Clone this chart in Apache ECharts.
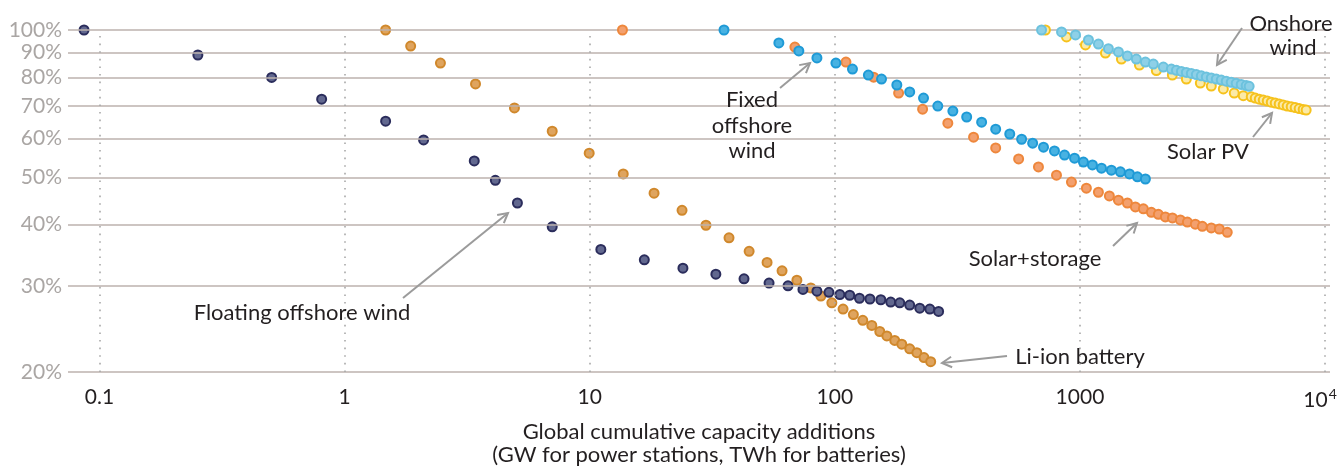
<!DOCTYPE html>
<html><head><meta charset="utf-8">
<script src="https://cdn.jsdelivr.net/npm/echarts@6/dist/echarts.min.js"></script>
<style>html,body{margin:0;padding:0;background:#fff}#c{width:1341px;height:467px}</style>
</head><body><div id="c"></div>
<script>
// ---- tick values / labels ----
const xTicks = [0.1, 1, 10, 100, 1000, 10000];
const xTickLabels = ['0.1', '1', '10', '100', '1000', '{n|10}{s|4}'];
const yTicks = [20, 30, 40, 50, 60, 70, 80, 90, 100];

// ---- series data (x = cumulative capacity, y = % of initial cost) ----
const floatingX = [0.0865, 0.252, 0.504, 0.806, 1.47, 2.10, 3.38, 4.12, 5.07, 7.03, 11.1, 16.7, 24.0, 32.7, 42.6, 53.9, 64.4, 74.1, 84.5, 94.6, 104.8, 115, 126, 139, 154, 169, 184, 202, 222, 244, 265];
const floatingY = [100, 88.9, 80, 72.2, 65.1, 59.6, 54.0, 49.3, 44.3, 39.6, 35.6, 33.9, 32.6, 31.7, 31.0, 30.4, 30.0, 29.5, 29.25, 29.1, 28.8, 28.7, 28.3, 28.2, 28.1, 27.8, 27.7, 27.4, 27.0, 26.9, 26.6];

const liionX = [1.47, 1.86, 2.46, 3.42, 4.93, 7.03, 9.95, 13.7, 18.3, 23.8, 29.8, 37.0, 44.7, 52.9, 60.9, 70.0, 79.8, 87.7, 97.2, 108, 119, 130, 141.5, 152.5, 163, 175.5, 187.5, 202, 216, 231, 246];
const liionY = [100, 92.7, 85.6, 77.6, 69.3, 62.1, 56.0, 50.8, 46.4, 42.8, 39.9, 37.6, 35.3, 33.5, 32.2, 30.8, 29.7, 28.6, 27.7, 26.9, 26.2, 25.5, 24.9, 24.2, 23.7, 23.2, 22.8, 22.3, 21.9, 21.4, 21.0];

const fixedX = [35.3, 59.1, 71.3, 84.5, 101, 118, 137, 155, 179, 202, 230, 263, 303, 345, 397, 453, 517, 578, 641, 710, 787, 865, 950, 1033, 1124, 1224, 1343, 1462, 1592, 1715, 1849];
const fixedY = [100, 94.1, 90.6, 87.7, 85.6, 83.2, 80.9, 79.4, 77.2, 74.7, 72.6, 69.9, 68.3, 66.4, 64.8, 62.7, 61.3, 59.8, 58.7, 57.6, 56.6, 55.5, 54.7, 53.7, 53.0, 52.2, 51.7, 51.3, 50.8, 50.1, 49.6];

const storageX = [13.6, 68.7, 111, 144, 182, 228, 289, 368, 453, 562, 677, 802, 923, 1062, 1189, 1318, 1435, 1561, 1683, 1814, 1955, 2088, 2230, 2383, 2567, 2742, 2954, 3156, 3433, 3702, 3989];
const storageY = [100, 92.3, 86.0, 80.1, 74.3, 68.9, 64.5, 60.4, 57.4, 54.5, 52.5, 50.5, 48.9, 47.5, 46.6, 45.8, 44.9, 44.3, 43.5, 43.1, 42.4, 42.0, 41.5, 41.3, 40.9, 40.5, 40.1, 39.7, 39.4, 39.2, 38.6];

const solarX = [723, 881, 1053, 1270, 1476, 1748, 2049, 2381, 2716, 3097, 3433, 3844, 4259, 4636, 4997, 5188, 5389, 5593, 5807, 6030, 6259, 6497, 6746, 7003, 7272, 7550, 7838, 8138, 8370];
const solarY = [100, 96.8, 93.2, 89.7, 87.2, 84.8, 82.6, 80.9, 79.4, 77.9, 76.8, 75.8, 74.3, 73.4, 73.0, 72.6, 72.2, 71.9, 71.6, 71.2, 70.9, 70.6, 70.3, 69.9, 69.7, 69.4, 69.1, 68.8, 68.6];

const onshoreX = [697, 841, 959, 1083, 1189, 1306, 1435, 1561, 1698, 1849, 1992, 2188, 2359, 2474, 2593, 2716, 2846, 2983, 3126, 3276, 3433, 3598, 3770, 3951, 4140, 4339, 4547, 4765, 4900];
const onshoreY = [100, 99.1, 97.7, 95.4, 93.6, 91.6, 90.2, 88.5, 87.2, 86.0, 85.2, 84.0, 83.2, 82.7, 82.3, 81.9, 81.5, 81.1, 80.6, 80.2, 79.8, 79.4, 79.0, 78.6, 78.2, 77.8, 77.4, 77.0, 76.7];

const FONT = 'Lato';
const pairs = (xs, ys) => xs.map((x, i) => [x, ys[i]]);

function scatter(name, xs, ys, fill, border, z) {
  return {
    name, type: 'scatter', data: pairs(xs, ys), symbol: 'circle', symbolSize: 9, z,
    itemStyle: { color: fill, borderColor: border, borderWidth: 2, opacity: 1 },
    emphasis: { disabled: true }, silent: true
  };
}

// gridlines drawn through the axes' scales
const gridSeries = {
  type: 'scatter', data: [], z: 1, silent: true,
  markLine: {
    silent: true, symbol: 'none', animation: false,
    label: { show: false },
    data: [
      ...yTicks.map(v => ({ yAxis: v, lineStyle: { color: '#bcb2ae', width: 1.6, type: 'solid' } })),
      ...xTicks.map(v => ({ xAxis: v, lineStyle: { color: '#a8a8a8', width: 1.6, type: [1.6, 6] } }))
    ]
  }
};

const chart = echarts.init(document.getElementById('c'), null, { renderer: 'canvas' });

function arrow(x1, y1, x2, y2) {
  const ang = Math.atan2(y1 - y2, x1 - x2);
  const L = 11, a = 0.5;
  const p1 = [x2 + L * Math.cos(ang + a), y2 + L * Math.sin(ang + a)];
  const p2 = [x2 + L * Math.cos(ang - a), y2 + L * Math.sin(ang - a)];
  const st = { stroke: '#9b9b9b', lineWidth: 2, fill: null };
  return [
    { type: 'line', shape: { x1, y1, x2, y2 }, style: st, z: 50 },
    { type: 'polyline', shape: { points: [p1, [x2, y2], p2] }, style: st, z: 50 }
  ];
}
function txt(text, x, y, align) {
  return { type: 'text', x, y, z: 50, style: { text, fill: '#231f20', font: '22px ' + FONT, align: align || 'center', verticalAlign: 'middle' } };
}

const graphics = [
  txt('Onshore', 1291, 24), txt('wind', 1293, 48),
  ...arrow(1242, 28, 1217, 65),
  txt('Solar PV', 1208, 152),
  ...arrow(1253, 137, 1272, 113),
  txt('Solar+storage', 1035, 259),
  ...arrow(1113, 246, 1137, 223),
  txt('Li-ion battery', 1080, 357),
  ...arrow(1007, 356, 942, 363),
  txt('Fixed', 752, 100), txt('offshore', 752, 126), txt('wind', 752, 151),
  ...arrow(780, 88, 810, 63),
  txt('Floating offshore wind', 302, 313),
  ...arrow(403, 298, 508, 213)
];

chart.setOption({
  animation: false,
  backgroundColor: '#ffffff',
  grid: { left: 68, right: 11, top: 30, bottom: 95, containLabel: false, outerBoundsMode: 'none' },
  xAxis: {
    type: 'log', logBase: 10, min: 0.0744, max: 10471,
    axisLine: { show: false }, axisTick: { show: false, customValues: xTicks }, splitLine: { show: false },
    axisLabel: {
      customValues: xTicks, margin: 15,
      formatter: v => { const i = xTicks.findIndex(t => Math.abs(Math.log10(t) - Math.log10(v)) < 1e-6); return i >= 0 ? xTickLabels[i] : ''; },
      color: '#231f20', fontFamily: FONT, fontSize: 21,
      rich: {
        n: { color: '#231f20', fontFamily: FONT, fontSize: 21, lineHeight: 24, verticalAlign: 'bottom' },
        s: { color: '#231f20', fontFamily: FONT, fontSize: 14, lineHeight: 24, verticalAlign: 'top', padding: [0, 10, 0, 1] }
      }
    },
    name: 'Global cumulative capacity additions\n(GW for power stations, TWh for batteries)',
    nameLocation: 'middle', nameGap: 48,
    nameTextStyle: { color: '#231f20', fontFamily: FONT, fontSize: 22, lineHeight: 23 }
  },
  yAxis: {
    type: 'log', logBase: 10, min: 20, max: 100,
    axisLine: { show: false }, axisTick: { show: false, customValues: yTicks }, splitLine: { show: false },
    axisLabel: {
      customValues: yTicks, margin: 6,
      formatter: v => Math.round(v) + '%',
      color: '#aaa6a4', fontFamily: FONT, fontSize: 21
    }
  },
  graphic: graphics,
  series: [
    gridSeries,
    scatter('Li-ion battery', liionX, liionY, '#dfa45e', '#d0882c', 3),
    scatter('Floating offshore wind', floatingX, floatingY, '#62688f', '#2b2d5c', 4),
    scatter('Solar+storage', storageX, storageY, '#f3a06e', '#ee873c', 5),
    scatter('Fixed offshore wind', fixedX, fixedY, '#48b2e2', '#1f9ad6', 6),
    scatter('Solar PV', solarX, solarY, '#fbeaa6', '#f6c21c', 7),
    scatter('Onshore wind', onshoreX, onshoreY, '#8ed0e7', '#6cc2de', 8)
  ]
});
</script>
</body></html>
